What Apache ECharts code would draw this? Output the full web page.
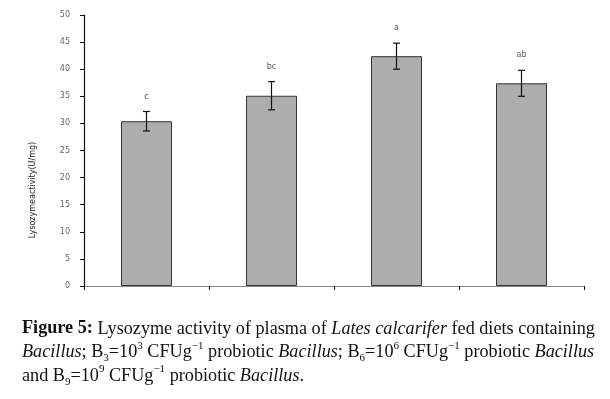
<!DOCTYPE html>
<html>
<head>
<meta charset="utf-8">
<script src="https://cdn.jsdelivr.net/npm/echarts@6/dist/echarts.min.js"></script>
<style>
  html, body { margin: 0; padding: 0; background: #fff; }
  #chart { width: 610px; height: 399px; }
</style>
</head>
<body>
<div id="chart"></div>
<script>
// groups (no x labels are printed in the figure)
const groups = ["Control", "B3", "B6", "B9"];
const meanValues = [30.4, 35.1, 42.4, 37.4];
const errValues = [1.8, 2.6, 2.4, 2.4];
const letters = ["c", "bc", "a", "ab"];
const yTicks = { min: 0, max: 50, step: 5 };

const chart = echarts.init(document.getElementById("chart"));

// error bar + significance letter
const errData = groups.map((g, i) => [i, meanValues[i] - errValues[i], meanValues[i] + errValues[i], letters[i]]);

const renderErr = (params, api) => {
  const x = api.coord([api.value(0), 0])[0];
  const lo = api.coord([api.value(0), api.value(1)])[1];
  const hi = api.coord([api.value(0), api.value(2)])[1];
  const cap = 3.5;
  const line = { stroke: "#111", lineWidth: 1.2 };
  return {
    type: "group",
    children: [
      { type: "line", shape: { x1: x, y1: lo, x2: x, y2: hi }, style: line },
      { type: "line", shape: { x1: x - cap, y1: lo, x2: x + cap, y2: lo }, style: line },
      { type: "line", shape: { x1: x - cap, y1: hi, x2: x + cap, y2: hi }, style: line },
      {
        type: "text",
        style: {
          x: x, y: hi - 15,
          text: api.value(3),
          fill: "#555",
          font: "8px 'DejaVu Sans'",
          align: "center",
          verticalAlign: "middle",
        },
      },
    ],
  };
};

const serif = "Liberation Serif";
const fs = 18.2;
const lh = 23.5;
const sup = { fontSize: 11, lineHeight: 11, verticalAlign: "top", fontFamily: serif, fontWeight: "normal", color: "#111" };
const sub = { fontSize: 11, lineHeight: 8, verticalAlign: "bottom", fontFamily: serif, fontWeight: "normal", color: "#111" };

const caption = [
  "{b|Figure 5:} {n|Lysozyme activity of plasma of }{i|Lates calcarifer}{n| fed diets containing}",
  "{i|Bacillus}{n|; B}{sub|3}{n|=10}{sup|3}{n| CFUg}{sup|−1}{n| probiotic }{i|Bacillus}{n|; B}{sub|6}{n|=10}{sup|6}{n| CFUg}{sup|−1}{n| probiotic }{i|Bacillus}",
  "{n|and B}{sub|9}{n|=10}{sup|9}{n| CFUg}{sup|−1}{n| probiotic }{i|Bacillus}{n|.}",
].join("\n");

chart.setOption({
  animation: false,
  grid: { left: 84, right: 26, top: 15, bottom: 113, containLabel: false, outerBoundsMode: "none" },
  xAxis: {
    type: "category",
    data: groups,
    axisLine: { lineStyle: { color: "#888", width: 1 } },
    axisTick: { show: true, length: 4, lineStyle: { color: "#111" } },
    axisLabel: { show: false },
  },
  yAxis: {
    type: "value",
    min: yTicks.min,
    max: yTicks.max,
    interval: yTicks.step,
    splitLine: { show: false },
    axisLine: { show: true, lineStyle: { color: "#111", width: 1.2 } },
    axisTick: { show: true, length: 4, lineStyle: { color: "#111" } },
    axisLabel: { color: "#666", fontSize: 8, fontFamily: "DejaVu Sans", margin: 14 },
  },
  graphic: [
    {
      type: "text",
      x: 33, y: 190,
      rotation: Math.PI / 2,
      style: {
        text: "Lysozymeactivity(U/mg)",
        fill: "#222",
        font: "8px 'DejaVu Sans'",
        align: "center",
        verticalAlign: "middle",
      },
    },
  ],
  title: {
    left: 22,
    top: 317,
    padding: 0,
    text: caption,
    textStyle: {
      fontSize: fs,
      fontWeight: "normal",
      fontFamily: serif,
      color: "#111",
      lineHeight: lh,
      rich: {
        b: { fontSize: fs, fontWeight: "bold", fontFamily: serif, color: "#111", lineHeight: lh },
        n: { fontSize: fs, fontWeight: "normal", fontFamily: serif, color: "#111", lineHeight: lh },
        i: { fontSize: fs, fontWeight: "normal", fontStyle: "italic", fontFamily: serif, color: "#111", lineHeight: lh },
        sup: sup,
        sub: sub,
      },
    },
  },
  series: [
    {
      type: "bar",
      data: meanValues,
      barWidth: 51,
      itemStyle: { color: "#adadad", borderColor: "#333", borderWidth: 1 },
    },
    {
      type: "custom",
      data: errData,
      renderItem: renderErr,
      z: 5,
    },
  ],
});
</script>
</body>
</html>
